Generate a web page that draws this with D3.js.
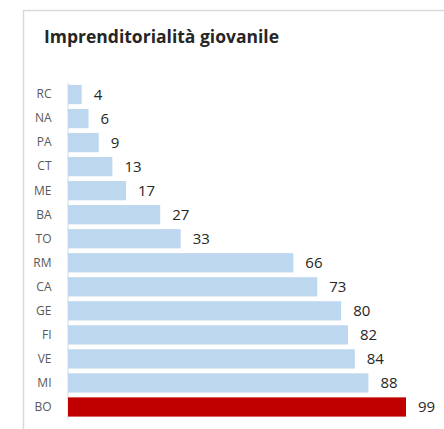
<!DOCTYPE html>
<html>
<head>
<meta charset="utf-8">
<script src="https://cdn.jsdelivr.net/npm/d3@7"></script>
<style>
  body { margin: 0; background: #fff; }
  text { font-family: "Open Sans", "Liberation Sans", sans-serif; }
</style>
</head>
<body>
<div id="chart"></div>
<script>
// Values, top to bottom
const cities = ['RC', 'NA', 'PA', 'CT', 'ME', 'BA', 'TO', 'RM', 'CA', 'GE', 'FI', 'VE', 'MI', 'BO'];
const scores = [4, 6, 9, 13, 17, 27, 33, 66, 73, 80, 82, 84, 88, 99];
const highlight = 'BO';

const width = 444;
const height = 429;

const svg = d3.select('#chart')
    .append('svg')
    .attr('width', width)
    .attr('height', height);

// chart frame (only top and left edges visible in the crop)
svg.append('path')
    .attr('d', `M23.5,${height} V10.5 H${width}`)
    .attr('fill', 'none')
    .attr('stroke', '#d9d9d9')
    .attr('stroke-width', 1.5);

svg.append('text')
    .attr('x', 44)
    .attr('y', 43)
    .attr('font-size', 17.5)
    .attr('font-weight', 'bold')
    .attr('fill', '#262626')
    .text('Imprenditorialità giovanile');

const x = d3.scaleLinear()
    .domain([0, 99])
    .range([68, 406]);

const y = d3.scaleBand()
    .domain(cities)
    .range([82.5, 419])
    .paddingInner(0.2)
    .paddingOuter(0.1);

// category axis
const yAxis = svg.append('g')
    .attr('transform', 'translate(67.5,0)')
    .call(d3.axisLeft(y).tickSize(0).tickPadding(16));
yAxis.select('.domain').attr('stroke', '#d9d9d9');
yAxis.selectAll('text')
    .attr('font-size', 12)
    .attr('fill', '#595959')
    .style('font-family', '"Open Sans", "Liberation Sans", sans-serif');

const rows = cities.map((c, i) => ({ city: c, value: scores[i] }));

svg.selectAll('rect.bar')
    .data(rows)
    .enter().append('rect')
    .attr('class', 'bar')
    .attr('x', x(0))
    .attr('y', d => y(d.city))
    .attr('width', d => x(d.value) - x(0))
    .attr('height', y.bandwidth())
    .attr('fill', d => d.city === highlight ? '#c00000' : '#bdd7ee');

svg.selectAll('text.val')
    .data(rows)
    .enter().append('text')
    .attr('class', 'val')
    .attr('x', d => x(d.value) + 12)
    .attr('y', d => y(d.city) + y.bandwidth() / 2)
    .attr('dy', '0.35em')
    .attr('font-size', 15)
    .attr('fill', '#262626')
    .text(d => d.value);
</script>
</body>
</html>
